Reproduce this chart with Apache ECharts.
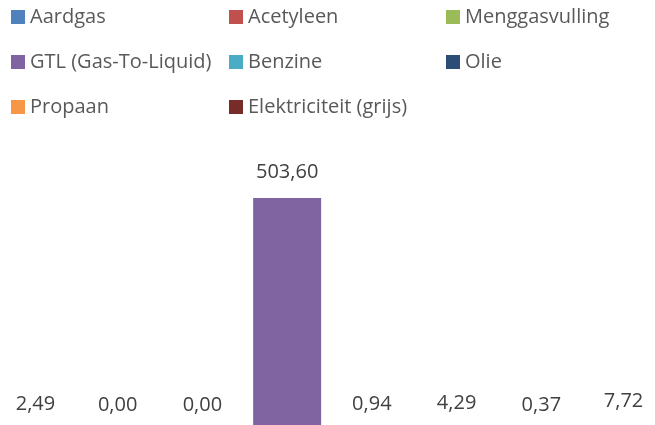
<!DOCTYPE html>
<html>
<head>
<meta charset="utf-8">
<script src="https://cdn.jsdelivr.net/npm/echarts@6/dist/echarts.min.js"></script>
<style>
  html, body { margin: 0; padding: 0; background: #fff; overflow: hidden; }
  /* baseline of the bars sits just below the visible area */
  #chart { width: 655px; height: 431px; }
</style>
</head>
<body>
<div id="chart"></div>
<script>
'use strict';

// one category, one series per fuel type
let categories = [''];
let seriesNames = ['Aardgas', 'Acetyleen', 'Menggasvulling', 'GTL (Gas-To-Liquid)',
  'Benzine', 'Olie', 'Propaan', 'Elektriciteit (grijs)'];
let seriesValues = [2.49, 0.00, 0.00, 503.60, 0.94, 4.29, 0.37, 7.72];
let seriesColors = ['#4F81BD', '#C0504D', '#9BBB59', '#8064A2',
  '#4BACC6', '#2C4D75', '#F79646', '#772C2A'];

// legend laid out in three columns like the original
let legendColumns = [
  ['Aardgas', 'GTL (Gas-To-Liquid)', 'Propaan'],
  ['Acetyleen', 'Benzine', 'Elektriciteit (grijs)'],
  ['Menggasvulling', 'Olie']
];
let legendLeft = [11, 229, 446];

let fontFamily = '"Open Sans", sans-serif';

function formatNl(v) {
  return v.toFixed(2).replace('.', ',');
}

let chart = echarts.init(document.getElementById('chart'));

let option = {
  animation: false,
  textStyle: { fontFamily: fontFamily },
  legend: legendColumns.map(function(col, i) {
    return {
      data: col,
      orient: 'vertical',
      left: legendLeft[i],
      top: 5,
      padding: 0,
      itemWidth: 14,
      itemHeight: 14,
      itemGap: 21,
      icon: 'rect',
      selectedMode: false,
      textStyle: { fontSize: 20, lineHeight: 24, color: '#595959', fontFamily: fontFamily }
    };
  }),
  grid: { left: 4, right: 0, top: 198, bottom: 0 },
  xAxis: {
    type: 'category',
    data: categories,
    show: false
  },
  yAxis: {
    type: 'value',
    min: 0,
    max: 503.6,
    show: false
  },
  series: seriesNames.map(function(name, i) {
    return {
      name: name,
      type: 'bar',
      data: [seriesValues[i]],
      barWidth: 68,
      barGap: '24.6%',
      itemStyle: { color: seriesColors[i] },
      label: {
        show: true,
        position: 'top',
        distance: 16,
        fontSize: 20,
        color: '#404040',
        fontFamily: fontFamily,
        formatter: function(p) { return formatNl(p.value); }
      }
    };
  })
};

chart.setOption(option);
</script>
</body>
</html>
